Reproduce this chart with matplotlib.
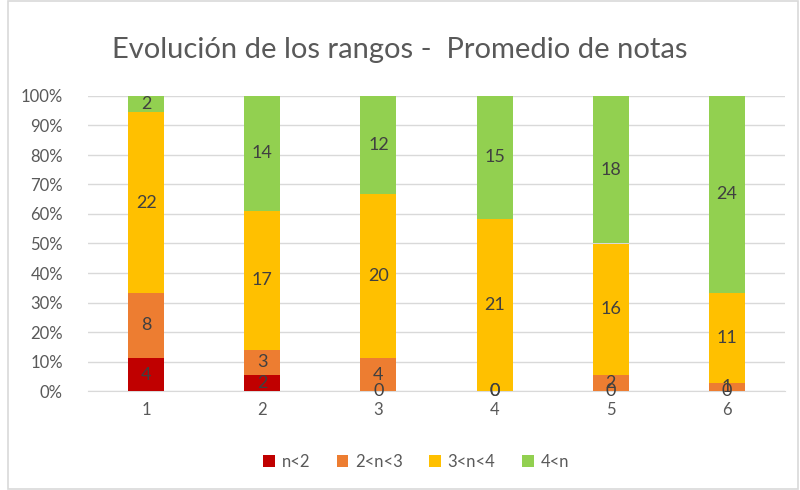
import matplotlib
matplotlib.use("Agg")
import matplotlib.pyplot as plt
import numpy as np
from matplotlib.patches import Rectangle

categories = ["1", "2", "3", "4", "5", "6"]
series_names = ["n<2", "2<n<3", "3<n<4", "4<n"]
n_lt2 = [4, 2, 0, 0, 0, 0]
n_2_3 = [8, 3, 4, 0, 2, 1]
n_3_4 = [22, 17, 20, 21, 16, 11]
n_gt4 = [2, 14, 12, 15, 18, 24]
colors = ["#C00000", "#ED7D31", "#FFC000", "#92D050"]
title = "Evolución de los rangos -  Promedio de notas"

plt.rcParams['font.family'] = ['Lato', 'DejaVu Sans']

fig = plt.figure(figsize=(8, 4.9), dpi=100)
ax = fig.add_axes([88/800, 1-391/490, (785-88)/800, (391-96)/490])

data = np.array([n_lt2, n_2_3, n_3_4, n_gt4], dtype=float)
totals = data.sum(axis=0)
pct = data / totals
x = np.arange(1, len(categories) + 1)
bottom = np.zeros(len(categories))
for i, name in enumerate(series_names):
    ax.bar(x, pct[i], 0.31, bottom=bottom, color=colors[i], label=name, zorder=3)
    for j in range(len(categories)):
        ax.text(x[j], bottom[j] + pct[i][j] / 2, f"{int(data[i][j])}",
                ha="center", va="center", fontsize=13, color="#404040", zorder=4)
    bottom += pct[i]

ax.set_xlim(0.5, 6.5)
ax.set_ylim(0, 1)
ax.set_yticks(np.arange(0, 1.01, 0.1))
ax.set_yticklabels([f"{int(round(v*100))}%" for v in np.arange(0, 1.01, 0.1)])
ax.set_xticks(x)
ax.set_xticklabels(categories)
ax.tick_params(axis="both", length=0, labelsize=12, colors="#595959")
ax.tick_params(axis="x", pad=8)
ax.tick_params(axis="y", pad=18)
ax.grid(axis="y", color="#D9D9D9", linewidth=1, zorder=0)
for s in ["top", "right", "left"]:
    ax.spines[s].set_visible(False)
ax.spines["bottom"].set_color("#D9D9D9")

fig.text(0.5, 1-50/490, title, ha="center", va="center", fontsize=21, color="#595959")

handles, labels = ax.get_legend_handles_labels()
fig.legend(handles, labels, loc="center", bbox_to_anchor=(0.52, 1-462/490), ncol=4,
           frameon=False, fontsize=12, handlelength=0.7, handleheight=0.7,
           handletextpad=0.4, columnspacing=1.6, labelcolor="#595959")

fig.patches.append(Rectangle((8/800, 0.002), 1-10/800, 0.996, transform=fig.transFigure,
                             fill=False, edgecolor="#D9D9D9", linewidth=1.2))

fig.savefig("out.png", dpi=100)
